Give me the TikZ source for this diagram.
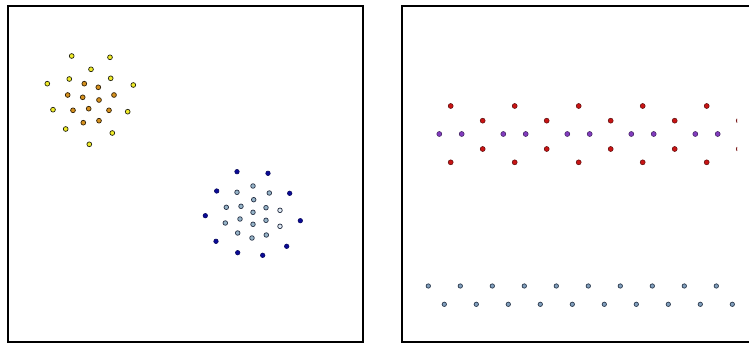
\documentclass[tikz,border=0pt]{standalone}
\begin{document}
\begin{tikzpicture}[x=1pt,y=-1pt,
  frame/.style={line width=2pt, draw=black},
  ydot/.style={fill={rgb,255:red,240;green,236;blue,40}, draw={rgb,255:red,40;green,40;blue,20}, line width=0.7pt},
  odot/.style={fill={rgb,255:red,215;green,145;blue,30}, draw={rgb,255:red,50;green,35;blue,10}, line width=0.7pt},
  bdot/.style={fill={rgb,255:red,10;green,10;blue,150}, draw={rgb,255:red,10;green,10;blue,90}, line width=0.5pt},
  lbdot/.style={fill={rgb,255:red,150;green,180;blue,200}, draw={rgb,255:red,40;green,50;blue,70}, line width=0.7pt},
  wbdot/.style={fill={rgb,255:red,225;green,235;blue,245}, draw={rgb,255:red,30;green,40;blue,60}, line width=0.7pt},
  rdot/.style={fill={rgb,255:red,200;green,20;blue,20}, draw={rgb,255:red,90;green,10;blue,10}, line width=0.5pt},
  pdot/.style={fill={rgb,255:red,130;green,60;blue,190}, draw={rgb,255:red,60;green,30;blue,90}, line width=0.5pt},
  sdot/.style={fill={rgb,255:red,130;green,160;blue,190}, draw={rgb,255:red,45;green,60;blue,80}, line width=0.7pt}]
\useasboundingbox (0,0) rectangle (749,344);
\fill[white] (0,0) rectangle (749,344);
% frames
\draw[frame] (8.3,6.3) rectangle (363,342.3);
\draw[frame] (752,6.3) -- (401.7,6.3) -- (401.7,342.3) -- (752,342.3);
% left panel: yellow/orange cluster
\foreach \x/\y in {71.7/56, 110/57.3, 91/69.3, 69.3/79, 110.7/78.3, 47.3/83.7, 133.3/85,
  53/109.7, 127.7/111.7, 65.7/129, 112.3/133, 89.3/144.3}
  \draw[ydot] (\x,\y) circle (2.4);
\foreach \x/\y in {84.3/83.7, 98.3/87.3, 67.7/95, 82.7/97.3, 99/100, 114/95,
  73/110.3, 88.7/108.7, 109/110.3, 83.3/122.7, 99/120.7}
  \draw[odot] (\x,\y) circle (2.4);
% left panel: blue cluster
\foreach \x/\y in {237/171.7, 268/173.3, 216.7/191, 289.7/193.3, 205.3/215.7, 300.3/220.7,
  216/241.3, 286.7/246.3, 237.7/252.7, 262.7/255.3}
  \draw[bdot] (\x,\y) circle (2.3);
\foreach \x/\y in {253/186, 237/192.3, 269.3/193, 253.7/199.7, 226.3/207.3, 241/206.3,
  266/207.7, 253/212.3, 240/219, 266/220.3, 225.3/223, 253/224.3, 237.7/233,
  266.3/235, 252/238}
  \draw[lbdot] (\x,\y) circle (2.3);
\foreach \x/\y in {280/210.3, 280/226.3}
  \draw[wbdot] (\x,\y) circle (2.3);
% right panel
\begin{scope}
\clip (403,8) rectangle (737,341);
\foreach \i in {0,...,4} {
  \draw[rdot] (450.7+64*\i,106) circle (2.5);
  \draw[rdot] (450.7+64*\i,162.3) circle (2.5);
  \draw[rdot] (482.7+64*\i,120.7) circle (2.5);
  \draw[rdot] (482.7+64*\i,149) circle (2.5);
  \draw[pdot] (439.3+64*\i,134) circle (2.5);
  \draw[pdot] (461.7+64*\i,134) circle (2.5);
}
\foreach \i in {0,...,9} {
  \draw[sdot] (428.3+32*\i,286) circle (2.2);
  \draw[sdot] (444.3+32*\i,304.3) circle (2.2);
}
\end{scope}
\end{tikzpicture}
\end{document}
